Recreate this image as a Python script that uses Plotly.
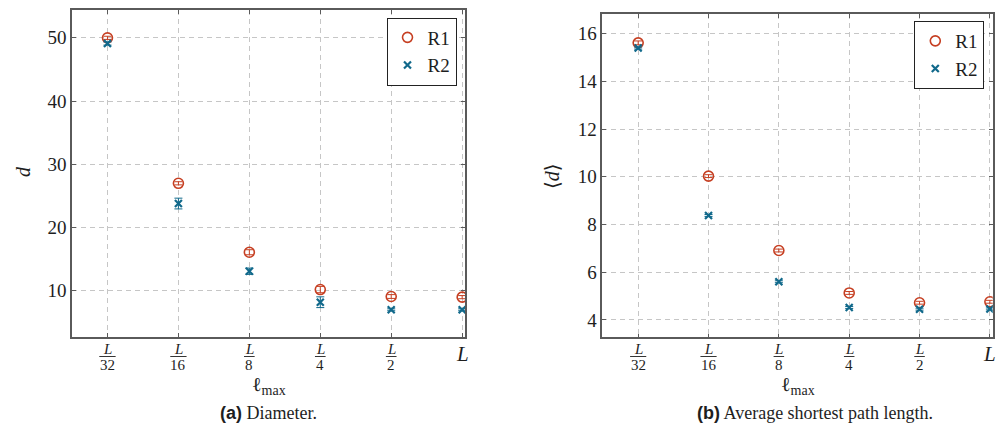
import plotly.graph_objects as go

# ---- data -------------------------------------------------------------
levels = ["L/32", "L/16", "L/8", "L/4", "L/2", "L"]
level_num = ["32", "16", "8", "4", "2", ""]   # denominators of the fraction labels
series_names = ["R1", "R2"]

diam_r1 = [50.0, 27.0, 16.1, 10.2, 9.1, 9.0]
diam_r1_err = [0.25, 0.25, 0.4, 0.5, 0.3, 0.25]
diam_r2 = [49.1, 23.8, 13.1, 8.2, 7.0, 7.0]
diam_r2_err = [0.25, 0.85, 0.5, 0.85, 0.15, 0.15]

asp_r1 = [15.62, 10.03, 6.91, 5.13, 4.72, 4.76]
asp_r1_err = [0.08, 0.06, 0.06, 0.06, 0.06, 0.06]
asp_r2 = [15.40, 8.38, 5.60, 4.52, 4.45, 4.46]
asp_r2_err = [0.04, 0.04, 0.04, 0.04, 0.04, 0.04]

diam_ticks = [10, 20, 30, 40, 50]
asp_ticks = [4, 6, 8, 10, 12, 14, 16]

# ---- style ------------------------------------------------------------
W, H = 997, 429
SERIF = "Times New Roman, Liberation Serif, Times, DejaVu Serif, serif"
SANS = "Arial, Liberation Sans, sans-serif"
C_R1 = "#c63f22"
C_R2 = "#11698b"
GRID = "#c6c6c6"
AXIS = "#5a5a5a"
INK = "#1e1e1e"

xpos = list(range(len(levels)))


def serif(text):
    return f'<span style="font-family:{SERIF}">{text}</span>'


fig = go.Figure()


def add_series(xa, ya, y1, e1, y2, e2, legend):
    fig.add_trace(go.Scatter(
        x=xpos, y=y1, mode="markers", name=serif(series_names[0]),
        xaxis=xa, yaxis=ya, legend=legend,
        marker=dict(symbol="circle-open", size=10, color=C_R1,
                    line=dict(width=1.6, color=C_R1)),
        error_y=dict(type="data", array=e1, color=C_R1, thickness=1, width=4),
    ))
    fig.add_trace(go.Scatter(
        x=xpos, y=y2, mode="markers", name=serif(series_names[1]),
        xaxis=xa, yaxis=ya, legend=legend,
        marker=dict(symbol="x-thin-open", size=7, color=C_R2,
                    line=dict(width=2.2, color=C_R2)),
        error_y=dict(type="data", array=e2, color=C_R2, thickness=1, width=4),
    ))


add_series("x", "y", diam_r1, diam_r1_err, diam_r2, diam_r2_err, "legend")
add_series("x2", "y2", asp_r1, asp_r1_err, asp_r2, asp_r2_err, "legend2")

grid_common = dict(
    showgrid=True, gridcolor=GRID, gridwidth=1, griddash="5px,4px",
    showline=True, linecolor=AXIS, linewidth=1.5, mirror="ticks",
    ticks="inside", ticklen=4, tickcolor=AXIS, zeroline=False,
    tickfont=dict(family=SERIF, size=19, color=INK),
)


def px_x(p):
    return p / W


def px_y(p):
    return 1 - p / H


legend_common = dict(
    xanchor="right", yanchor="top",
    bordercolor="#222", borderwidth=1, bgcolor="white",
    font=dict(family=SERIF, size=19, color=INK),
    itemwidth=30, tracegroupgap=0,
)

fig.update_layout(
    width=W, height=H,
    margin=dict(l=0, r=0, t=0, b=0),
    plot_bgcolor="white", paper_bgcolor="white",
    font=dict(family=SERIF, color=INK),
    xaxis=dict(domain=[px_x(72), px_x(465)], range=[-0.5, 5.04],
               tickvals=xpos, showticklabels=False, anchor="y", **grid_common),
    yaxis=dict(domain=[px_y(337), px_y(10)], range=[2.7, 54.4],
               tickvals=diam_ticks,
               ticktext=[serif(v) for v in diam_ticks],
               anchor="x", **grid_common),
    xaxis2=dict(domain=[px_x(602.3), px_x(992.7)], range=[-0.51, 5.04],
                tickvals=xpos, showticklabels=False, anchor="y2", **grid_common),
    yaxis2=dict(domain=[px_y(337.3), px_y(14)], range=[3.27, 16.83],
                tickvals=asp_ticks,
                ticktext=[serif(v) for v in asp_ticks],
                anchor="x2", **grid_common),
    legend=dict(x=px_x(456.5), y=px_y(17.5), **legend_common),
    legend2=dict(x=px_x(984.3), y=px_y(21), **legend_common),
)


def label(x, y, text, size, xref="paper", angle=0, family=SERIF):
    fig.add_annotation(x=x, y=y, xref=xref, yref="paper", text=text,
                       showarrow=False, xanchor="center", yanchor="middle",
                       textangle=angle,
                       font=dict(family=family, size=size, color=INK))


# ---- fraction tick labels on the x axes ------------------------------
for xref in ("x", "x2"):
    for i, den in enumerate(level_num):
        if den:
            label(i, px_y(349), "<i>L</i>", 15, xref=xref)
            label(i, px_y(364.5), den, 15, xref=xref)
            half = 0.115 if len(den) == 2 else 0.075
            fig.add_shape(type="line", xref=xref, yref="paper",
                          x0=i - half, x1=i + half,
                          y0=px_y(356.5), y1=px_y(356.5),
                          line=dict(color=INK, width=0.9))
        else:
            label(i, px_y(354), "<i>L</i>", 21, xref=xref)

# ---- axis titles --------------------------------------------------------
label(px_x(268.5), px_y(385), "ℓ<sub>max</sub>", 20)
label(px_x(797.5), px_y(385), "ℓ<sub>max</sub>", 20)
label(px_x(23), px_y(172), "<i>d</i>", 20, angle=-90)
label(px_x(552), px_y(176), "⟨<i>d</i>⟩", 20, angle=-90)

# ---- sub-captions ------------------------------------------------------
label(px_x(268.5), px_y(413),
      f'<span style="font-family:{SANS};font-weight:bold">(a)</span> Diameter.',
      18)
label(px_x(815), px_y(413),
      f'<span style="font-family:{SANS};font-weight:bold">(b)</span> Average shortest path length.',
      18)

fig.write_html("out.html")
